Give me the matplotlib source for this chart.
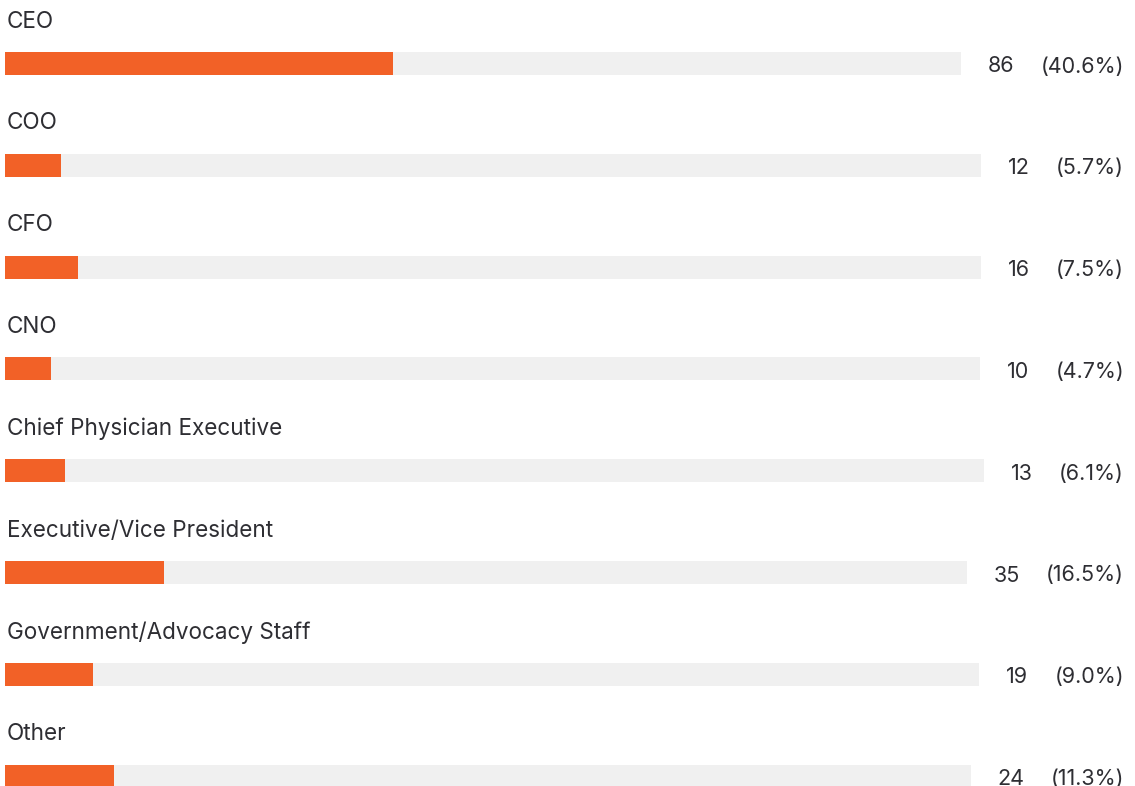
import matplotlib.pyplot as plt
from matplotlib.patches import Rectangle

roles = ["CEO", "COO", "CFO", "CNO", "Chief Physician Executive",
         "Executive/Vice President", "Government/Advocacy Staff", "Other"]
counts = [86, 12, 16, 10, 13, 35, 19, 24]
pcts = [40.6, 5.7, 7.5, 4.7, 6.1, 16.5, 9.0, 11.3]

ORANGE = "#F26127"
TRACK = "#F0F0F0"
INK = "#2E2E33"

plt.rcParams["font.family"] = ["Inter", "DejaVu Sans"]

W, H = 1135, 786
fig = plt.figure(figsize=(W / 100, H / 100), dpi=100)
ax = fig.add_axes([0, 0, 1, 1])
ax.set_xlim(0, W)
ax.set_ylim(H, 0)
ax.axis("off")

fig.canvas.draw()
renderer = fig.canvas.get_renderer()
inv = ax.transData.inverted()


def left_edge(txt):
    bb = txt.get_window_extent(renderer)
    return inv.transform((bb.x0, bb.y0))[0]


x_left = 5
bar_h = 23
pitch = 101.8
gap_num = 26
gap_track = 27
fs_label = 16.2
fs_num = 15.5

for i, (role, n, p) in enumerate(zip(roles, counts, pcts)):
    yc = 63.5 + i * pitch
    ax.text(7, yc - 42, role, fontsize=fs_label, color=INK, va="center", ha="left")

    # right-hand labels: percentage flush right, count to its left
    pt = ax.text(1124, yc + 3, f"({p:.1f}%)", fontsize=fs_num, color=INK,
                 va="center", ha="right")
    ct = ax.text(left_edge(pt) - gap_num, yc + 3, f"{n}", fontsize=fs_num,
                 color=INK, va="center", ha="right")
    x_right = left_edge(ct) - gap_track

    track_w = x_right - x_left
    ax.add_patch(Rectangle((x_left, yc - bar_h / 2), track_w, bar_h,
                           facecolor=TRACK, edgecolor="none"))
    ax.add_patch(Rectangle((x_left, yc - bar_h / 2), track_w * p / 100, bar_h,
                           facecolor=ORANGE, edgecolor="none"))

fig.savefig("out.png", dpi=100, facecolor="white")
